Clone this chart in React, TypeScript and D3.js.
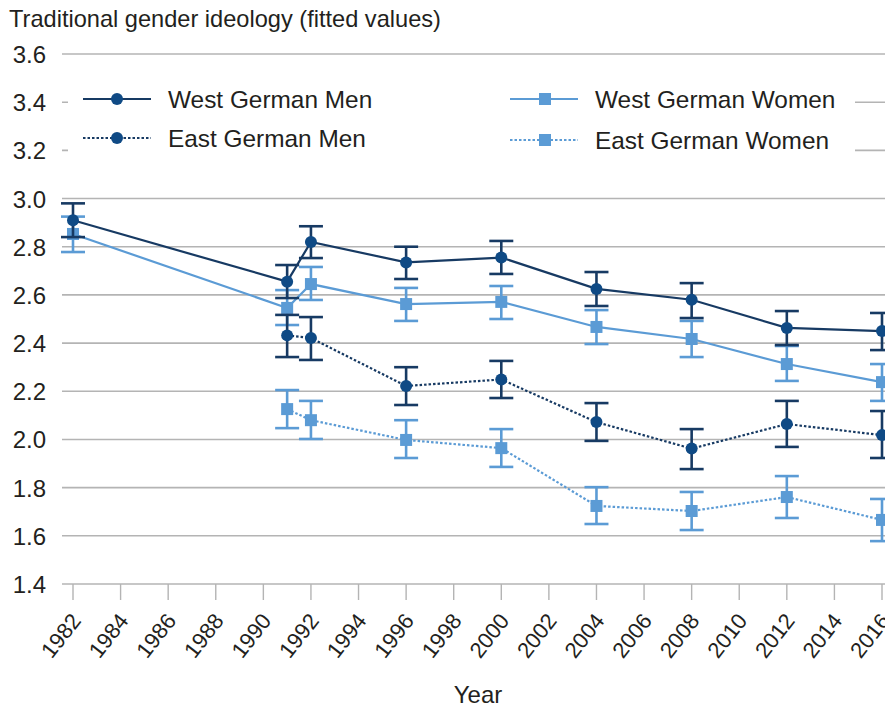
import React, { useEffect, useRef } from 'react';
import * as d3 from 'd3';

// survey waves
const westYears = [1982, 1991, 1992, 1996, 2000, 2004, 2008, 2012, 2016];
const eastYears = [1991, 1992, 1996, 2000, 2004, 2008, 2012, 2016];

const westMen = [2.91, 2.655, 2.82, 2.735, 2.755, 2.625, 2.58, 2.463, 2.45];
const westMenLo = [2.84, 2.587, 2.753, 2.666, 2.687, 2.554, 2.504, 2.392, 2.371];
const westMenHi = [2.98, 2.724, 2.885, 2.80, 2.824, 2.695, 2.649, 2.533, 2.525];

const westWomen = [2.853, 2.546, 2.645, 2.562, 2.571, 2.467, 2.417, 2.313, 2.238];
const westWomenLo = [2.778, 2.475, 2.579, 2.492, 2.50, 2.396, 2.342, 2.243, 2.16];
const westWomenHi = [2.925, 2.62, 2.716, 2.629, 2.637, 2.537, 2.492, 2.388, 2.313];

const eastMen = [2.432, 2.421, 2.222, 2.249, 2.072, 1.962, 2.064, 2.018];
const eastMenLo = [2.342, 2.33, 2.143, 2.172, 1.994, 1.877, 1.969, 1.923];
const eastMenHi = [2.517, 2.508, 2.30, 2.326, 2.151, 2.043, 2.16, 2.118];

const eastWomen = [2.126, 2.08, 1.998, 1.964, 1.724, 1.703, 1.761, 1.666];
const eastWomenLo = [2.047, 2.002, 1.923, 1.886, 1.649, 1.624, 1.674, 1.578];
const eastWomenHi = [2.205, 2.16, 2.08, 2.043, 1.802, 1.782, 1.848, 1.753];

const yTicks = [1.4, 1.6, 1.8, 2.0, 2.2, 2.4, 2.6, 2.8, 3.0, 3.2, 3.4, 3.6];
const xTicks = d3.range(1982, 2017, 2);

const NAVY = '#173a63';
const NAVY_DOT = '#0f4a85';
const LIGHT = '#5b9bd5';
const GRID = '#b4b4b4';
const TEXT = '#231f20';
const FONT = 'Liberation Sans, Arial, sans-serif';

const App = () => {
  const chartRef = useRef(null);

  useEffect(() => {
    if (!chartRef.current) return;
    document.body.style.margin = '0';

    const width = 885;
    const height = 709;

    d3.select(chartRef.current).selectAll('*').remove();

    const svg = d3
      .select(chartRef.current)
      .append('svg')
      .attr('width', width)
      .attr('height', height)
      .style('display', 'block')
      .style('background-color', '#ffffff');

    const x = d3.scaleLinear().domain([1982, 2016]).range([73, 882]);
    const y = d3.scaleLinear().domain([1.4, 3.6]).range([584, 54]);

    // title
    svg
      .append('text')
      .attr('x', 9)
      .attr('y', 27)
      .attr('font-family', FONT)
      .attr('font-size', 23.6)
      .attr('fill', TEXT)
      .text('Traditional gender ideology (fitted values)');

    // grid lines
    svg
      .selectAll('.grid')
      .data(yTicks)
      .enter()
      .append('line')
      .attr('x1', 62)
      .attr('x2', width)
      .attr('y1', d => y(d))
      .attr('y2', d => y(d))
      .attr('stroke', GRID)
      .attr('stroke-width', 1.6);

    svg
      .selectAll('.ylab')
      .data(yTicks)
      .enter()
      .append('text')
      .attr('x', 46)
      .attr('y', d => y(d) + 9)
      .attr('text-anchor', 'end')
      .attr('font-family', FONT)
      .attr('font-size', 24)
      .attr('fill', TEXT)
      .text(d => d.toFixed(1));

    // x ticks
    svg
      .selectAll('.xtick')
      .data(xTicks)
      .enter()
      .append('line')
      .attr('x1', d => x(d))
      .attr('x2', d => x(d))
      .attr('y1', y(1.4))
      .attr('y2', y(1.4) + 16)
      .attr('stroke', GRID)
      .attr('stroke-width', 1.4);

    svg
      .selectAll('.xlab')
      .data(xTicks)
      .enter()
      .append('text')
      .attr('transform', d => `translate(${x(d) + 9},${y(1.4) + 37}) rotate(-52)`)
      .attr('text-anchor', 'end')
      .attr('font-family', FONT)
      .attr('font-size', 22)
      .attr('fill', TEXT)
      .text(d => d);

    svg
      .append('text')
      .attr('x', 478)
      .attr('y', 703)
      .attr('text-anchor', 'middle')
      .attr('font-family', FONT)
      .attr('font-size', 24)
      .attr('fill', TEXT)
      .text('Year');

    // legend background hides the grid behind it
    svg
      .append('rect')
      .attr('x', 68)
      .attr('y', 72)
      .attr('width', 787)
      .attr('height', 96)
      .attr('fill', '#ffffff');

    const series = [
      { name: 'West German Women', years: westYears, v: westWomen, lo: westWomenLo, hi: westWomenHi, color: LIGHT, mark: LIGHT, dash: null, shape: 'square' },
      { name: 'East German Women', years: eastYears, v: eastWomen, lo: eastWomenLo, hi: eastWomenHi, color: LIGHT, mark: LIGHT, dash: '2.5,2', shape: 'square' },
      { name: 'West German Men', years: westYears, v: westMen, lo: westMenLo, hi: westMenHi, color: NAVY, mark: NAVY_DOT, dash: null, shape: 'circle' },
      { name: 'East German Men', years: eastYears, v: eastMen, lo: eastMenLo, hi: eastMenHi, color: NAVY, mark: NAVY_DOT, dash: '2.5,2', shape: 'circle' },
    ];

    const line = d3
      .line()
      .x(d => x(d[0]))
      .y(d => y(d[1]));

    series.forEach(s => {
      const pts = s.years.map((yr, i) => [yr, s.v[i]]);
      const g = svg.append('g');

      g.append('path')
        .attr('d', line(pts))
        .attr('fill', 'none')
        .attr('stroke', s.color)
        .attr('stroke-width', 2.2)
        .attr('stroke-dasharray', s.dash);

      // error bars
      s.years.forEach((yr, i) => {
        const cx = x(yr);
        const eb = g.append('g').attr('stroke', s.color).attr('stroke-width', 2.6);
        eb.append('line').attr('x1', cx).attr('x2', cx).attr('y1', y(s.lo[i])).attr('y2', y(s.hi[i]));
        eb.append('line').attr('x1', cx - 12).attr('x2', cx + 12).attr('y1', y(s.lo[i])).attr('y2', y(s.lo[i]));
        eb.append('line').attr('x1', cx - 12).attr('x2', cx + 12).attr('y1', y(s.hi[i])).attr('y2', y(s.hi[i]));
      });

      pts.forEach(p => {
        if (s.shape === 'circle') {
          g.append('circle').attr('cx', x(p[0])).attr('cy', y(p[1])).attr('r', 6).attr('fill', s.mark);
        } else {
          g.append('rect').attr('x', x(p[0]) - 6).attr('y', y(p[1]) - 6).attr('width', 12).attr('height', 12).attr('fill', s.mark);
        }
      });
    });

    // legend
    const legendItems = [
      { s: series[2], lx: 83, ly: 99 },
      { s: series[3], lx: 83, ly: 138 },
      { s: series[0], lx: 510, ly: 99 },
      { s: series[1], lx: 510, ly: 140 },
    ];

    legendItems.forEach(({ s, lx, ly }) => {
      const g = svg.append('g');
      g.append('line')
        .attr('x1', lx)
        .attr('x2', lx + 68)
        .attr('y1', ly)
        .attr('y2', ly)
        .attr('stroke', s.color)
        .attr('stroke-width', 2.2)
        .attr('stroke-dasharray', s.dash);
      if (s.shape === 'circle') {
        g.append('circle').attr('cx', lx + 34).attr('cy', ly).attr('r', 6).attr('fill', s.mark);
      } else {
        g.append('rect').attr('x', lx + 29).attr('y', ly - 6).attr('width', 12).attr('height', 12).attr('fill', s.mark);
      }
      g.append('text')
        .attr('x', lx + 85)
        .attr('y', ly + 9)
        .attr('font-family', FONT)
        .attr('font-size', 24.4)
        .attr('fill', TEXT)
        .text(s.name);
    });
  }, []);

  return <div ref={chartRef}></div>;
};

export default App;
